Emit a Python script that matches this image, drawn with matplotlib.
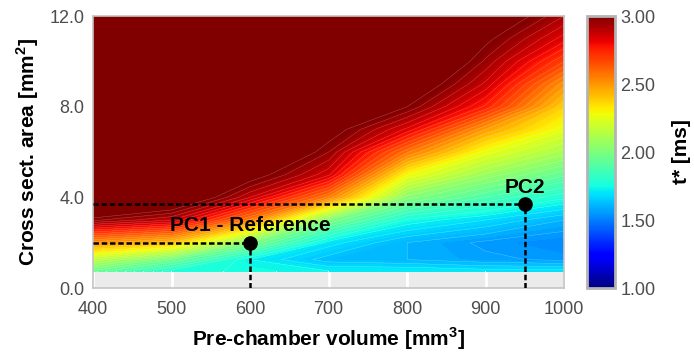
import numpy as np
import matplotlib.pyplot as plt
from matplotlib.colors import Normalize
from matplotlib.cm import ScalarMappable

plt.rcParams['font.family'] = ['Liberation Sans', 'DejaVu Sans']
plt.rcParams['mathtext.fontset'] = 'custom'
plt.rcParams['mathtext.rm'] = 'Liberation Sans'
plt.rcParams['mathtext.bf'] = 'Liberation Sans:bold'

### Data ###
volume = np.array([400, 500, 600, 700, 800, 900, 1000])          # mm^3
area = np.array([0.75, 1.25, 2, 3, 4, 5, 6, 7, 8, 9, 10, 11, 12])  # mm^2
# t* [ms], one row per area, one column per volume
t_star = np.array([
    [1.95, 1.78, 1.75, 1.72, 1.72, 1.70, 1.70],
    [2.15, 1.96, 1.72, 1.62, 1.60, 1.57, 1.55],
    [2.50, 2.40, 2.00, 1.70, 1.60, 1.55, 1.52],
    [2.97, 2.88, 2.55, 2.00, 1.75, 1.68, 1.60],
    [3.30, 3.15, 2.88, 2.55, 2.02, 1.88, 1.77],
    [3.50, 3.40, 3.05, 2.85, 2.28, 2.07, 1.93],
    [3.70, 3.60, 3.20, 2.96, 2.57, 2.26, 2.10],
    [3.80, 3.70, 3.40, 3.05, 2.83, 2.48, 2.25],
    [3.90, 3.80, 3.55, 3.20, 3.00, 2.75, 2.37],
    [4.00, 3.90, 3.70, 3.40, 3.10, 2.87, 2.50],
    [4.00, 4.00, 3.80, 3.55, 3.20, 2.95, 2.68],
    [4.00, 4.00, 3.90, 3.70, 3.35, 3.02, 2.82],
    [4.00, 4.00, 4.00, 3.80, 3.50, 3.10, 2.92],
])

pc_names = ['PC1 - Reference', 'PC2']
pc_volume = [600, 950]
pc_area = [2.0, 3.7]

t_min, t_max = 1.0, 3.0

### Figure ###
fig = plt.figure(figsize=(6.94, 3.56), dpi=100)
ax = fig.add_axes([0.134, 0.191, 0.679, 0.764])
cax = fig.add_axes([0.846, 0.191, 0.040, 0.764])

cmap = plt.get_cmap('jet').with_extremes(over=plt.get_cmap('jet')(1.0))
levels = np.linspace(t_min, t_max, 101)
ax.contourf(volume, area, t_star, levels=levels, cmap=cmap, extend='max', zorder=1)
ax.contour(volume, area, t_star, levels=levels[::2], colors='white',
           linewidths=0.3, alpha=0.35, zorder=1.5)

ax.set_facecolor('#ebebeb')
ax.grid(axis='x', color='white', lw=2)
ax.set_axisbelow(True)
ax.set_xlim(400, 1000)
ax.set_ylim(0, 12)
ax.set_xticks(np.arange(400, 1001, 100))
ax.set_yticks([0, 4, 8, 12])
ax.set_yticklabels(['0.0', '4.0', '8.0', '12.0'])
ax.tick_params(length=0, labelsize=13, colors='#4d4d4d')
ax.tick_params(axis='x', pad=9)
ax.tick_params(axis='y', pad=6)
for sp in ax.spines.values():
    sp.set_color('#c4c4c4')
    sp.set_linewidth(1.2)

ax.set_xlabel(r'Pre-chamber volume [mm$^{\mathbf{3}}$]', fontsize=15, fontweight='bold', labelpad=6)
ax.set_ylabel(r'Cross sect. area [mm$^{\mathbf{2}}$]', fontsize=15, fontweight='bold', labelpad=6)

# operating points with guide lines
for name, v, a in zip(pc_names, pc_volume, pc_area):
    ax.plot([400, v], [a, a], color='black', lw=1.8, ls=(0, (2.2, 1.1)), zorder=3)
    ax.plot([v, v], [0, a], color='black', lw=1.8, ls=(0, (2.2, 1.1)), zorder=3)
    ax.plot(v, a, 'o', color='black', ms=9.5, zorder=4)
    ax.text(v, a + 0.75, name, ha='center', va='center', fontsize=15,
            fontweight='bold', zorder=5)

### Colorbar ###
sm = ScalarMappable(norm=Normalize(t_min, t_max), cmap='jet')
cb = fig.colorbar(sm, cax=cax)
cb.set_ticks([1.0, 1.5, 2.0, 2.5, 3.0])
cb.set_ticklabels(['1.00', '1.50', '2.00', '2.50', '3.00'])
cb.ax.tick_params(length=0, labelsize=13, colors='#4d4d4d', pad=4)
cb.outline.set_edgecolor('#b4b4b4')
cb.outline.set_linewidth(2)
cb.set_label('t* [ms]', fontsize=15, fontweight='bold', labelpad=12)

fig.savefig('out.png', dpi=100)
